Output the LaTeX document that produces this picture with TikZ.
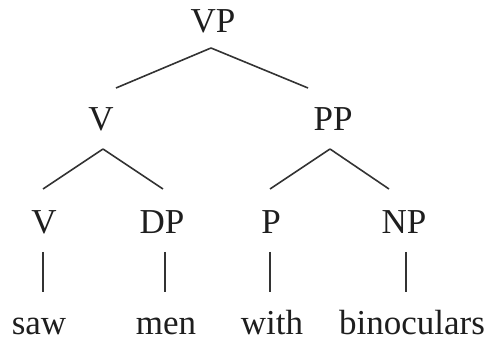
\documentclass[tikz,border=0pt]{standalone}
\usepackage{fontspec}
\setmainfont{Liberation Serif}
\usetikzlibrary{calc}
\definecolor{ink}{HTML}{1E1E1E}
\definecolor{edge}{HTML}{333333}
\tikzset{
  lab/.style={anchor=base, inner sep=0pt, text=ink, font=\fontsize{35}{42}\selectfont},
  branch/.style={draw=edge, line width=1.6pt}
}
\begin{document}
\begin{tikzpicture}[x=1pt,y=1pt]
\useasboundingbox (0,0) rectangle (497,344);
\node[lab] (VP) at (213,311) {VP};
\node[lab] (V1) at (101,213) {V};
\node[lab] (PP) at (333,213) {PP};
\node[lab] (V2) at (44,110) {V};
\node[lab] (DP) at (162,110) {DP};
\node[lab] (P) at (271,110) {P};
\node[lab] (NP) at (404,110) {NP};
\node[lab] (saw) at (39,9) {saw};
\node[lab] (men) at (166,9) {men};
\node[lab] (with) at (272,9) {with};
\node[lab] (bin) at (412,9) {binoculars};
% VP branches
\draw[branch] ($(VP.base)+(-2,-15)$) -- ($(V1.base)+(15,43)$);
\draw[branch] ($(VP.base)+(-2,-15)$) -- ($(PP.base)+(-25,43)$);
% V branches
\draw[branch] ($(V1.base)+(2,-18)$) -- ($(V2.base)+(-1,45)$);
\draw[branch] ($(V1.base)+(2,-18)$) -- ($(DP.base)+(1,45)$);
% PP branches
\draw[branch] ($(PP.base)+(-3,-18)$) -- ($(P.base)+(-1,45)$);
\draw[branch] ($(PP.base)+(-3,-18)$) -- ($(NP.base)+(-15,45)$);
% unary branches
\draw[branch] ($(V2.base)+(-1,-18)$) -- ($(saw.base)+(4,43)$);
\draw[branch] ($(DP.base)+(3,-18)$) -- ($(men.base)+(-1,43)$);
\draw[branch] ($(P.base)+(-1,-18)$) -- ($(with.base)+(-2,43)$);
\draw[branch] ($(NP.base)+(2,-18)$) -- ($(bin.base)+(-6,43)$);
\end{tikzpicture}
\end{document}
